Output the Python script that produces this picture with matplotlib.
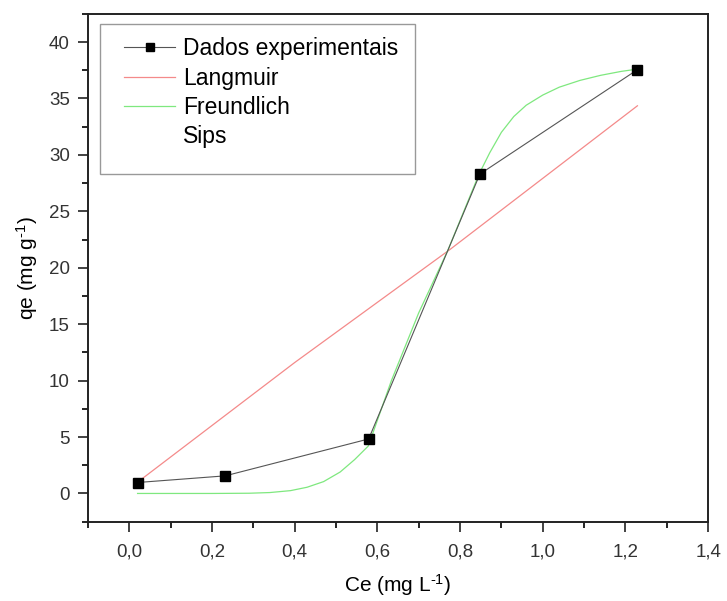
import numpy as np
import matplotlib
matplotlib.use("Agg")
import matplotlib.pyplot as plt
from matplotlib.lines import Line2D
from matplotlib.patches import Rectangle

plt.rcParams['font.family'] = ['Liberation Sans', 'DejaVu Sans']
plt.rcParams['mathtext.fontset'] = 'custom'
plt.rcParams['mathtext.rm'] = 'Liberation Sans'
plt.rcParams['mathtext.default'] = 'regular'

# experimental data
ce_exp = [0.02, 0.232, 0.579, 0.848, 1.229]
qe_exp = [0.97, 1.56, 4.83, 28.3, 37.55]

# Langmuir fit
ce_lang = [0.02, 0.40, 0.775, 1.229]
qe_lang = [1.0, 11.6, 21.6, 34.35]

# Freundlich fit
ce_freu = [0.02, 0.20, 0.29, 0.34, 0.39, 0.43, 0.47, 0.51, 0.545, 0.578, 0.634,
           0.70, 0.77, 0.846, 0.872, 0.90, 0.93, 0.96, 1.0, 1.04, 1.09, 1.14,
           1.19, 1.229]
qe_freu = [0.0, 0.0, 0.02, 0.08, 0.25, 0.55, 1.05, 1.9, 3.0, 4.2, 10.0,
           16.0, 21.5, 28.3, 30.2, 32.0, 33.4, 34.4, 35.3, 36.0, 36.6, 37.05,
           37.4, 37.6]

xticks = [0.0, 0.2, 0.4, 0.6, 0.8, 1.0, 1.2, 1.4]
xticklabels = ['0,0', '0,2', '0,4', '0,6', '0,8', '1,0', '1,2', '1,4']
yticks = [0, 5, 10, 15, 20, 25, 30, 35, 40]

fig = plt.figure(figsize=(7.27, 6.01), dpi=100)
ax = fig.add_axes([0.121, 0.132, 0.853, 0.845])

ax.plot(ce_lang, qe_lang, color='#f48a8a', lw=0.9, label='Langmuir', zorder=2)
ax.plot(ce_freu, qe_freu, color='#7fe87f', lw=0.9, label='Freundlich', zorder=2)
ax.plot(ce_exp, qe_exp, color='#555555', lw=0.8, marker='s', ms=7.5,
        mfc='black', mec='black', label='Dados experimentais', zorder=3)

ax.set_xlim(-0.1, 1.4)
ax.set_ylim(-2.5, 42.5)
ax.set_xticks(xticks)
ax.set_xticklabels(xticklabels)
ax.set_xticks(np.arange(-0.1, 1.41, 0.2), minor=True)
ax.set_yticks(yticks)
ax.set_yticks(np.arange(-2.5, 42.6, 5), minor=True)

ax.tick_params(which='major', direction='out', length=7, width=1.2,
               labelsize=13.5, colors='#222222', labelcolor='#333333', pad=6)
ax.tick_params(which='minor', direction='out', length=4, width=1.2)
ax.tick_params(axis='x', pad=9)
for s in ax.spines.values():
    s.set_linewidth(1.4)
    s.set_color('#222222')

ax.set_xlabel('Ce (mg L$^{\\text{-}1}$)', fontsize=15)
ax.set_ylabel('qe (mg g$^{\\text{-}1}$)', fontsize=15)
ax.xaxis.set_label_coords(0.5, -0.1)
ax.yaxis.set_label_coords(-0.078, 0.5)

# legend
h_exp = Line2D([], [], color='#555555', lw=0.8, marker='s', ms=6,
               mfc='black', mec='black')
h_lang = Line2D([], [], color='#f48a8a', lw=0.9)
h_freu = Line2D([], [], color='#7fe87f', lw=0.9)
h_sips = Line2D([], [], linestyle='none')
ax.legend([h_exp, h_lang, h_freu, h_sips],
          ['Dados experimentais', 'Langmuir', 'Freundlich', 'Sips'],
          loc='upper left', bbox_to_anchor=(0.043, 0.972), frameon=False,
          fontsize=16.5, handlelength=2.25, handletextpad=0.35,
          labelspacing=0.28, borderaxespad=0)
ax.add_patch(Rectangle((0.019, 0.684), 0.508, 0.296, transform=ax.transAxes,
                       fill=False, edgecolor='#999999', lw=1.0, zorder=5))

fig.savefig('out.png', dpi=100)
